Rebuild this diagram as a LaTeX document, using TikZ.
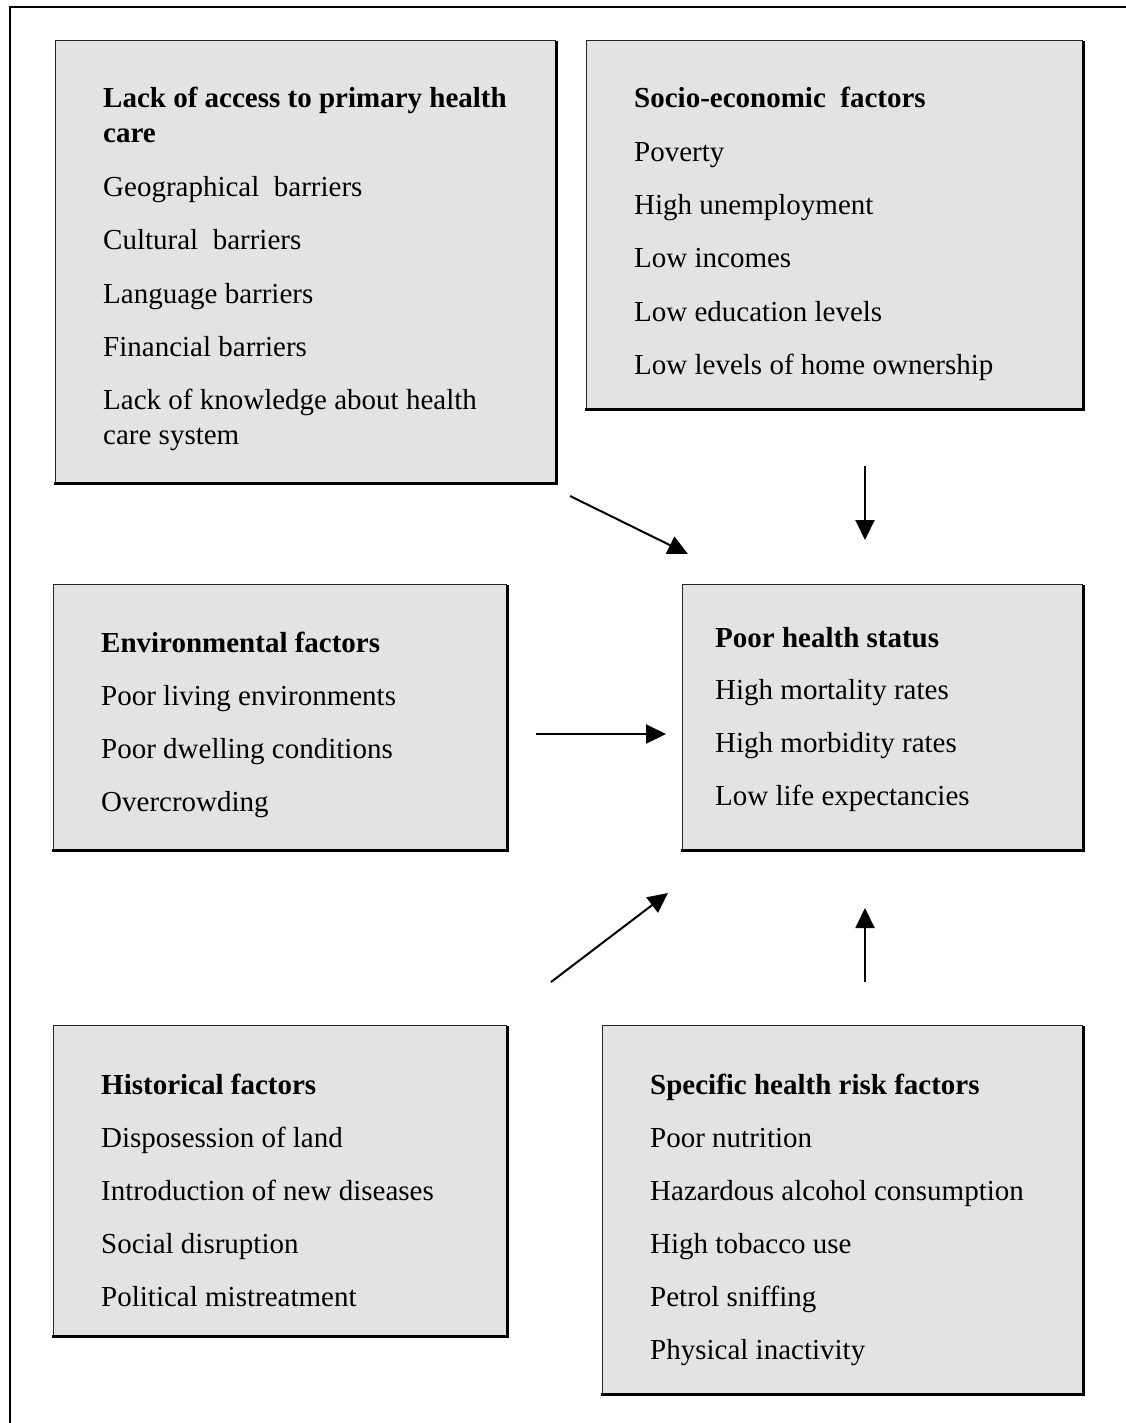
\documentclass[tikz,border=0pt]{standalone}
\usepackage{fontspec}
\setmainfont{Liberation Serif}
\usetikzlibrary{arrows.meta}
\begin{document}
\begin{tikzpicture}[x=1pt,y=-1pt,
  box/.style={draw=black!85,fill=boxgray,line width=1.4pt,inner sep=0pt,anchor=north west},
  shade/.style={draw=black,line width=2.6pt},
  txt/.style={inner sep=0pt,anchor=base west,font=\fontsize{29}{34}\selectfont},
  ttl/.style={txt,font=\fontsize{29}{34}\selectfont\bfseries},
  arr/.style={line width=2pt,-{Triangle[length=20pt,width=19pt]}}]
\definecolor{boxgray}{HTML}{E3E3E3}
\useasboundingbox (0,0) rectangle (1126,1423);
\draw[line width=2pt] (1126,7) -- (10,7) -- (10,1423);
% boxes
\node[box,minimum width=500pt,minimum height=442pt] (b1) at (55,40) {};
\node[box,minimum width=496pt,minimum height=368pt] (b2) at (586,40) {};
\node[box,minimum width=453pt,minimum height=265pt] (b3) at (53,584) {};
\node[box,minimum width=400pt,minimum height=265pt] (b4) at (682,584) {};
\node[box,minimum width=453pt,minimum height=310pt] (b5) at (53,1025) {};
\node[box,minimum width=480pt,minimum height=368pt] (b6) at (602,1025) {};
\foreach \b in {b1,b2,b3,b4,b5,b6}{
  \draw[shade] ([yshift=-0.7pt]\b.north east) -- (\b.south east) -- ([xshift=-0.7pt]\b.south west);
}
% box 1
\node[ttl] (t1) at (103,108) {Lack of access to primary health};
\node[ttl] (t1x) at (103,143) {care};
\node[txt] (t1a) at (103,197) {Geographical\ \ barriers};
\node[txt] (t1b) at (103,250) {Cultural\ \ barriers};
\node[txt] (t1c) at (103,303) {Language barriers};
\node[txt] (t1d) at (103,356) {Financial barriers};
\node[txt] (t1e) at (103,409) {Lack of knowledge about health};
\node[txt] (t1f) at (103,444) {care system};
% box 2
\node[ttl] (t2) at (634,108) {Socio-economic\ \ factors};
\node[txt] (t2a) at (634,162) {Poverty};
\node[txt] (t2b) at (634,215) {High unemployment};
\node[txt] (t2c) at (634,268) {Low incomes};
\node[txt] (t2d) at (634,321) {Low education levels};
\node[txt] (t2e) at (634,374) {Low levels of home ownership};
% box 3
\node[ttl] (t3) at (101,652) {Environmental factors};
\node[txt] (t3a) at (101,705) {Poor living environments};
\node[txt] (t3b) at (101,758) {Poor dwelling conditions};
\node[txt] (t3c) at (101,811) {Overcrowding};
% box 4
\node[ttl] (t4) at (715,647) {Poor health status};
\node[txt] (t4a) at (715,699) {High mortality rates};
\node[txt] (t4b) at (715,752) {High morbidity rates};
\node[txt] (t4c) at (715,805) {Low life expectancies};
% box 5
\node[ttl] (t5) at (101,1094) {Historical factors};
\node[txt] (t5a) at (101,1147) {Disposession of land};
\node[txt] (t5b) at (101,1200) {Introduction of new diseases};
\node[txt] (t5c) at (101,1253) {Social disruption};
\node[txt] (t5d) at (101,1306) {Political mistreatment};
% box 6
\node[ttl] (t6) at (650,1094) {Specific health risk factors};
\node[txt] (t6a) at (650,1147) {Poor nutrition};
\node[txt] (t6b) at (650,1200) {Hazardous alcohol consumption};
\node[txt] (t6c) at (650,1253) {High tobacco use};
\node[txt] (t6d) at (650,1306) {Petrol sniffing};
\node[txt] (t6e) at (650,1359) {Physical inactivity};
% arrow ends
\coordinate (a1s) at (570,496); \coordinate (a1e) at (688,554);
\coordinate (a2s) at (865,466); \coordinate (a2e) at (865,540);
\coordinate (a3s) at (536,734); \coordinate (a3e) at (666,734);
\coordinate (a4s) at (551,982); \coordinate (a4e) at (668,893);
\coordinate (a5s) at (865,982); \coordinate (a5e) at (865,908);
\draw[arr] (a1s) -- (a1e);
\draw[arr] (a2s) -- (a2e);
\draw[arr] (a3s) -- (a3e);
\draw[arr] (a4s) -- (a4e);
\draw[arr] (a5s) -- (a5e);
\end{tikzpicture}
\end{document}
